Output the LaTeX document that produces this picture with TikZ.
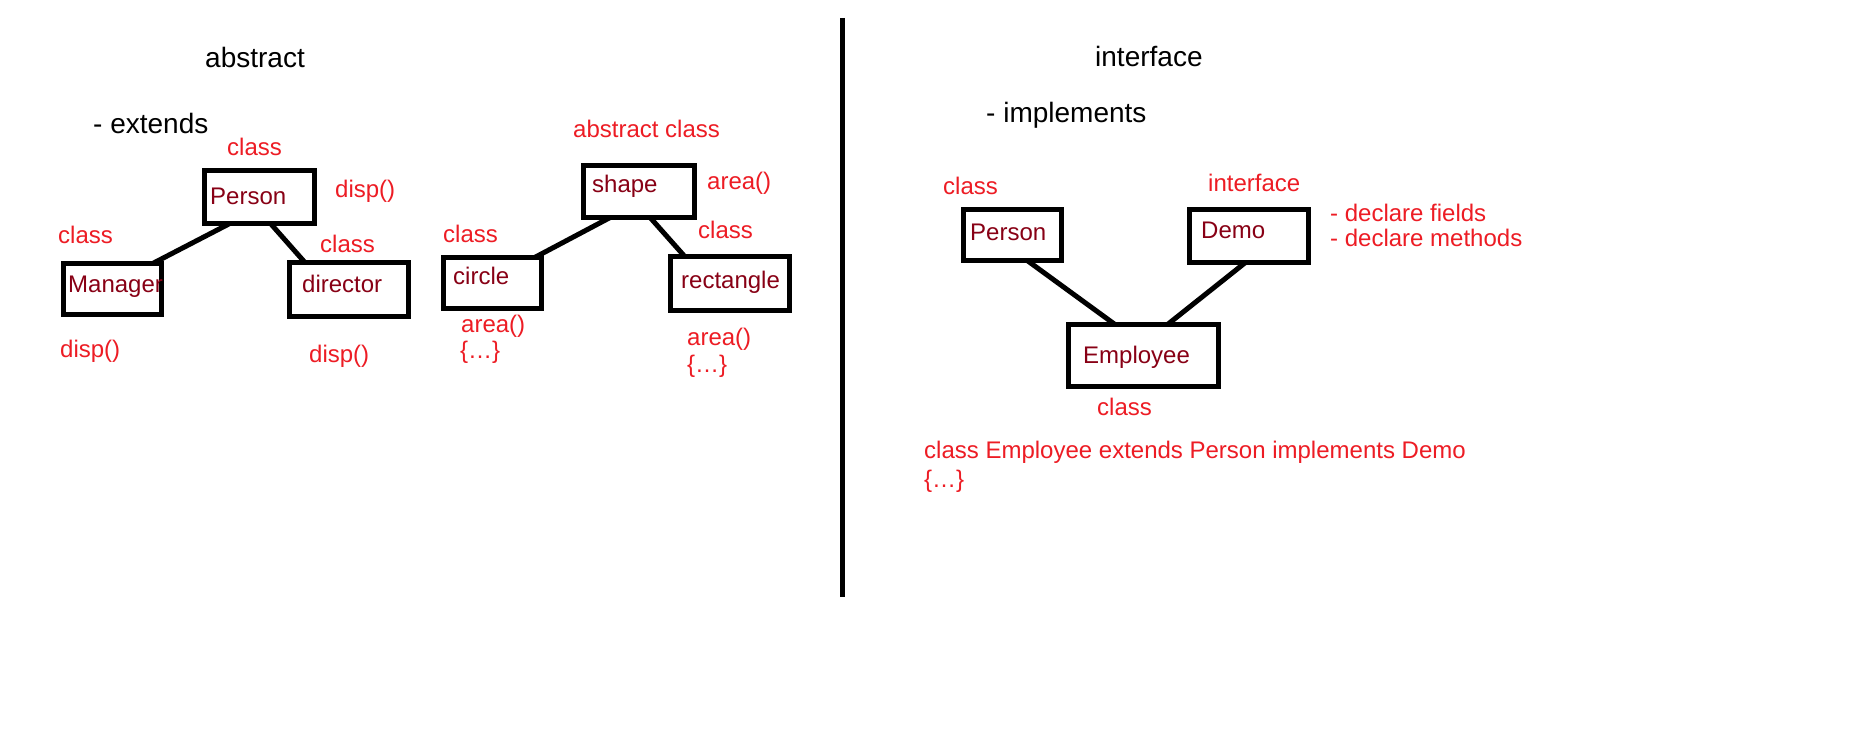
\documentclass[tikz,border=0pt]{standalone}
\usepackage{fontspec}
\setmainfont{Liberation Sans}
\usetikzlibrary{calc}
\definecolor{pred}{RGB}{237,28,36}
\definecolor{dred}{RGB}{136,0,21}
\tikzset{
  box/.style={draw=black, line width=5pt, inner sep=0pt, outer sep=0pt},
  conn/.style={draw=black, line width=5pt},
  head/.style={anchor=base west, inner sep=0pt, text=black, font=\fontsize{28}{33}\selectfont},
  note/.style={anchor=base west, inner sep=0pt, text=pred, font=\fontsize{24}{29}\selectfont},
  cname/.style={anchor=base west, inner sep=0pt, text=dred, font=\fontsize{24}{29}\selectfont},
}
\begin{document}
\begin{tikzpicture}[x=1pt, y=-1pt]
\useasboundingbox[fill=white] (0,0) rectangle (1852,743);

% divider
\coordinate (dtop) at (842.5,18);
\coordinate (dbot) at (842.5,597);
\draw[line width=5pt] (dtop) -- (dbot);

% headings
\node[head] (habs) at (205,68) {abstract};
\node[head] (hext) at (93,134) {- extends};
\node[head] (hint) at (1095,67) {interface};
\node[head] (himp) at (986,123) {- implements};

% ---- Person / Manager / director ----
\node[box, minimum width=110pt, minimum height=53pt] (pl) at (259.5,197) {};
\node[box, minimum width=98pt, minimum height=51pt] (mgr) at (112.5,289) {};
\node[box, minimum width=119pt, minimum height=54pt] (dir) at (349,289.5) {};
\node[cname] (plt) at (210,205) {Person};
\node[cname] (mgrt) at (68,293) {Manager};
\node[cname] (dirt) at (302,293) {director};
\node[note] (c1) at (227,156) {class};
\node[note] (d1) at (335,198) {disp()};
\node[note] (c2) at (58,244) {class};
\node[note] (c3) at (320,253) {class};
\node[note] (d2) at (60,357) {disp()};
\node[note] (d3) at (309,362) {disp()};
\draw[conn] ($(pl.south west)!0.23!(pl.south east)$) -- ($(mgr.north west)!0.91!(mgr.north east)$);
\draw[conn] ($(pl.south west)!0.6!(pl.south east)$) -- ($(dir.north west)!0.13!(dir.north east)$);

% ---- shape / circle / rectangle ----
\node[box, minimum width=111pt, minimum height=52pt] (shp) at (639,191.5) {};
\node[box, minimum width=98pt, minimum height=51pt] (cir) at (492.5,283) {};
\node[box, minimum width=119pt, minimum height=54pt] (rct) at (730,283.5) {};
\node[cname] (shpt) at (592,193) {shape};
\node[cname] (cirt) at (453,284) {circle};
\node[cname] (rctt) at (681,288) {rectangle};
\node[note] (ac) at (573,138) {abstract class};
\node[note] (a1) at (707,190) {area()};
\node[note] (c4) at (443,243) {class};
\node[note] (c5) at (698,239) {class};
\node[note] (a2) at (461,332) {area()};
\node[note] (b2) at (460,358) {\{…\}};
\node[note] (a3) at (687,345) {area()};
\node[note] (b3) at (687,372) {\{…\}};
\draw[conn] ($(shp.south west)!0.24!(shp.south east)$) -- ($(cir.north west)!0.93!(cir.north east)$);
\draw[conn] ($(shp.south west)!0.6!(shp.south east)$) -- ($(rct.north west)!0.12!(rct.north east)$);

% ---- Person / Demo / Employee ----
\node[box, minimum width=98pt, minimum height=51pt] (pr) at (1012.5,235) {};
\node[box, minimum width=119pt, minimum height=53pt] (demo) at (1249,236) {};
\node[box, minimum width=150pt, minimum height=62pt] (emp) at (1143.5,355.5) {};
\node[cname] (prt) at (970,241) {Person};
\node[cname] (demot) at (1201,239) {Demo};
\node[cname] (empt) at (1083,363) {Employee};
\node[note] (c6) at (943,195) {class};
\node[note] (i1) at (1208,192) {interface};
\node[note] (df) at (1330,222) {- declare fields};
\node[note] (dm) at (1330,247) {- declare methods};
\node[note] (c7) at (1097,415) {class};
\node[note] (ce) at (924,458) {class Employee extends Person implements Demo};
\node[note] (b4) at (924,487) {\{…\}};
\draw[conn] ($(pr.south west)!0.65!(pr.south east)$) -- ($(emp.north west)!0.31!(emp.north east)$);
\draw[conn] ($(demo.south west)!0.47!(demo.south east)$) -- ($(emp.north west)!0.66!(emp.north east)$);
\end{tikzpicture}
\end{document}
